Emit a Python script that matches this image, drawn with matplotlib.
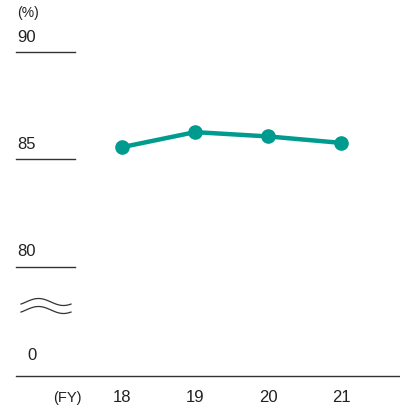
import matplotlib.pyplot as plt
import numpy as np

plt.rcParams['font.family'] = ['Liberation Sans', 'DejaVu Sans']

years = [18, 19, 20, 21]
year_labels = ['18', '19', '20', '21']
values = [85.55, 86.25, 86.05, 85.75]
ytick_vals = [90, 85, 80]
teal = '#009B8F'
dark = '#333333'

W, H = 400, 412
fig = plt.figure(figsize=(W / 100, H / 100), dpi=100)
ax = fig.add_axes([0, 0, 1, 1])
ax.axis('off')

# pixel mapping: 18 -> x=122, 73px per year; 85 -> y=159, 21.5px per unit
ax.set_xlim(18 - 122 / 73, 18 + (W - 122) / 73)
ax.set_ylim(85 - (H - 159) / 21.5, 85 + 159 / 21.5)

def fy(p):
    return 1 - p / H

# short grid lines with labels
for v in ytick_vals:
    ax.axhline(v, xmin=16 / W, xmax=75 / W, color=dark, lw=1)
    ax.annotate(str(v), (17 / W, v), xycoords=('figure fraction', 'data'),
                xytext=(0, 7), textcoords='offset pixels',
                fontsize=12, color='#222222', va='bottom', ha='left')

# zero baseline (broken axis)
ax.plot([16 / W, 1], [fy(376), fy(376)], transform=fig.transFigure, color=dark, lw=1)
fig.text(27 / W, fy(363), '0', fontsize=12, color='#222222', va='bottom', ha='left')
fig.text(17 / W, fy(20), '(%)', fontsize=10, color='#222222', va='bottom', ha='left')

# break mark
t = np.linspace(0, 1, 60)
xs = 21 + 50 * t
for y0 in (302, 310):
    ys = y0 - 3.5 * np.sin(2 * np.pi * (t - 0.1))
    ax.plot(xs / W, [fy(y) for y in ys], transform=fig.transFigure, color=dark, lw=0.9)

# data line
ax.plot(years, values, color=teal, lw=3.2, marker='o', ms=9.5, solid_capstyle='round')

# x labels
for x, lab in zip(years, year_labels):
    ax.annotate(lab, (x, fy(398)), xycoords=('data', 'figure fraction'),
                fontsize=12, color='#222222', ha='center', va='center')
fig.text(67 / W, fy(398), '(FY)', fontsize=10.5, color='#222222', ha='center', va='center')

fig.savefig('out.png', dpi=100)
